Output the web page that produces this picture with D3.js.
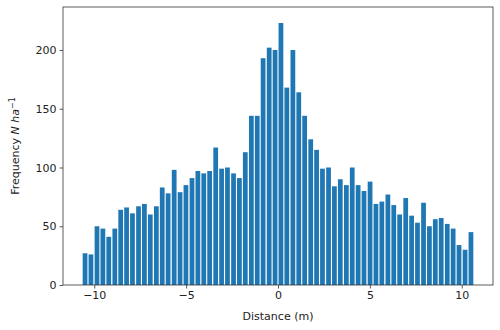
<!DOCTYPE html>
<html>
<head>
<meta charset="utf-8">
<script src="https://cdn.jsdelivr.net/npm/d3@7"></script>
<style>
  html, body { margin: 0; padding: 0; background: #fff; }
  svg { display: block; font-family: "DejaVu Sans", sans-serif; }
</style>
</head>
<body>
<svg id="chart" width="500" height="330"></svg>
<script>
// Bin centres along the transect (m)
const distances = [
  -10.50, -10.18, -9.85, -9.53, -9.21, -8.88, -8.56, -8.24, -7.92, -7.59, -7.27,
  -6.95, -6.62, -6.30, -5.98, -5.65, -5.33, -5.01, -4.68, -4.36, -4.04, -3.72,
  -3.39, -3.07, -2.75, -2.42, -2.10, -1.78, -1.45, -1.13, -0.81, -0.48, -0.16,
  0.16, 0.48, 0.81, 1.13, 1.45, 1.78, 2.10, 2.42, 2.75, 3.07, 3.39, 3.72, 4.04,
  4.36, 4.68, 5.01, 5.33, 5.65, 5.98, 6.30, 6.62, 6.95, 7.27, 7.59, 7.92, 8.24,
  8.56, 8.88, 9.21, 9.53, 9.85, 10.18, 10.50
];
// Frequency (N ha^-1) per bin
const frequencies = [
  27, 26, 50, 48, 41, 48, 64, 66, 61, 67, 69,
  60, 67, 83, 78, 98, 79, 85, 91, 97, 95, 97,
  117, 99, 100, 95, 91, 113, 144, 144, 193, 202, 200,
  223, 168, 200, 164, 144, 124, 115, 99, 100, 84, 90, 85, 100,
  85, 80, 88, 69, 71, 77, 68, 60, 74, 59, 53, 70, 50,
  56, 57, 52, 48, 34, 30, 45
];
const xTicks = [-10, -5, 0, 5, 10];
const yTicks = [0, 50, 100, 150, 200];

const svg = d3.select("#chart");
const plotLeft = 63, plotRight = 493, plotTop = 7, plotBottom = 285;

const x = d3.scaleLinear().domain([-11.7, 11.7]).range([plotLeft, plotRight]);
const y = d3.scaleLinear().domain([0, 236.6]).range([plotBottom, plotTop]);

const step = (distances[distances.length - 1] - distances[0]) / (distances.length - 1);
const barW = x(step * 0.8) - x(0);

// Bars
svg.append("g")
  .selectAll("rect")
  .data(distances.map((d, i) => ({ d, f: frequencies[i] })))
  .join("rect")
  .attr("x", v => x(v.d) - barW / 2)
  .attr("width", barW)
  .attr("y", v => y(v.f))
  .attr("height", v => y(0) - y(v.f))
  .attr("fill", "#1f77b4");

const fmt = v => (v < 0 ? "\u2212" + Math.abs(v) : String(v));

// Axes
const xAxis = svg.append("g")
  .attr("transform", `translate(0,${plotBottom})`)
  .call(d3.axisBottom(x).tickValues(xTicks).tickFormat(fmt).tickSize(3.5).tickPadding(3));
const yAxis = svg.append("g")
  .attr("transform", `translate(${plotLeft},0)`)
  .call(d3.axisLeft(y).tickValues(yTicks).tickFormat(fmt).tickSize(3.5).tickPadding(3));

[xAxis, yAxis].forEach(g => {
  g.select(".domain").remove();
  g.selectAll(".tick line").attr("stroke", "#333").attr("stroke-width", 0.8);
  g.selectAll(".tick text")
    .attr("fill", "#222")
    .style("font-size", "11px")
    .style("font-family", "DejaVu Sans, sans-serif");
});

// Frame
svg.append("rect")
  .attr("x", plotLeft).attr("y", plotTop)
  .attr("width", plotRight - plotLeft).attr("height", plotBottom - plotTop)
  .attr("fill", "none")
  .attr("stroke", "#333")
  .attr("stroke-width", 0.8);

// Axis titles
svg.append("text")
  .attr("x", (plotLeft + plotRight) / 2)
  .attr("y", 320)
  .attr("text-anchor", "middle")
  .attr("fill", "#222")
  .style("font-size", "11px")
  .text("Distance (m)");

const yl = svg.append("text")
  .attr("transform", `translate(19,${(plotTop + plotBottom) / 2}) rotate(-90)`)
  .attr("text-anchor", "middle")
  .attr("fill", "#222")
  .style("font-size", "11px");
yl.append("tspan").text("Frequency ");
yl.append("tspan").style("font-style", "italic").text("N ha");
yl.append("tspan").attr("dy", -4).style("font-size", "8px").text("\u22121");
</script>
</body>
</html>
